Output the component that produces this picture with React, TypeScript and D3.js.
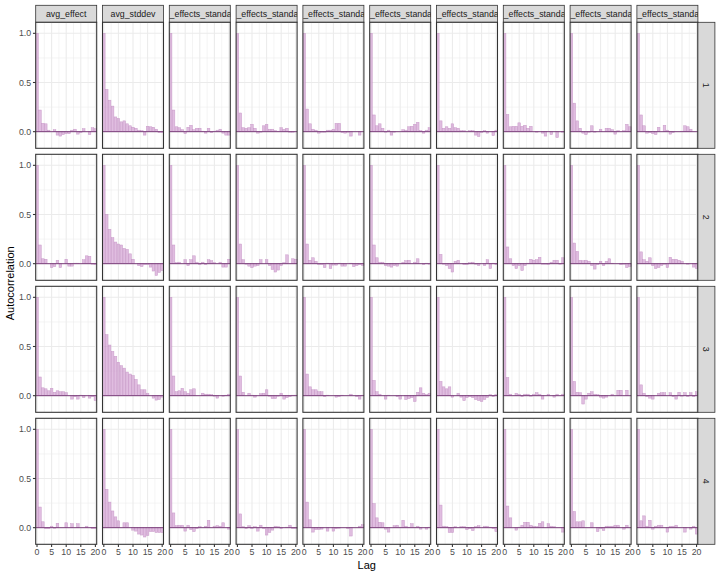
import React, { useRef, useEffect } from "react";
import * as d3 from "d3";

// facet labels (long parameter names show only their cut middle part in the strips)
const columnLabels = [
  "avg_effect",
  "avg_stddev",
  "_effects_standa",
  "_effects_standa",
  "_effects_standa",
  "_effects_standa",
  "_effects_standa",
  "_effects_standa",
  "_effects_standa",
  "_effects_standa",
];
const rowLabels = ["1", "2", "3", "4"];
const lags = [0, 1, 2, 3, 4, 5, 6, 7, 8, 9, 10, 11, 12, 13, 14, 15, 16, 17, 18, 19, 20];
const xTicks = [0, 5, 10, 15, 20];
const yTicks = [0, 0.5, 1];

// autocorrelation per chain (row), one array per parameter (column)
const acfChain1 = [
  [1, 0.22, 0.085, 0.08, 0.015, 0.0, 0.02, -0.035, -0.045, -0.03, -0.02, -0.02, 0.015, 0.025, -0.025, -0.01, 0.03, 0.0, -0.03, 0.04, 0.03],
  [1, 0.43, 0.32, 0.26, 0.15, 0.135, 0.1, 0.11, 0.08, 0.06, 0.045, 0.035, 0.015, 0.01, -0.035, 0.055, 0.05, 0.045, 0.025, -0.01, -0.01],
  [1, 0.22, 0.05, 0.04, 0.02, -0.02, 0.045, 0.065, 0.02, 0.035, 0.035, 0.005, -0.015, 0.035, -0.01, 0.005, 0.015, 0.025, -0.015, -0.035, -0.035],
  [1, 0.19, 0.04, 0.035, 0.04, 0.075, 0.035, -0.015, -0.005, 0.06, 0.075, 0.025, 0.025, 0.01, 0.005, 0.04, 0.025, 0.035, -0.005, -0.005, 0],
  [1, 0.23, 0.08, 0.025, 0.015, -0.015, -0.005, -0.005, 0.015, 0.015, 0.025, 0.085, 0.085, -0.01, -0.015, -0.005, -0.045, 0, 0, -0.035, 0],
  [1, 0.17, 0.06, 0.08, 0.035, -0.005, 0.015, -0.035, -0.005, 0, 0, 0.02, 0.015, 0.05, 0.055, 0.075, 0.095, 0.01, -0.015, 0.015, 0.04],
  [1, 0.11, 0.035, 0.05, 0.035, 0.08, 0.04, 0.035, 0.01, 0.01, 0, 0.01, 0.01, -0.035, -0.05, -0.01, 0.01, -0.015, 0, -0.04, 0.015],
  [1, 0.175, 0.05, 0.055, 0.055, 0.09, 0.055, 0.065, 0.035, 0.055, 0, -0.005, 0, -0.015, -0.045, 0, -0.03, 0, -0.06, 0, -0.005],
  [1, 0.29, 0.11, 0.035, -0.015, -0.03, -0.005, 0.06, -0.005, 0, 0.025, 0, 0.035, 0.035, 0.02, -0.025, 0.01, 0, 0.01, 0.075, 0.05],
  [1, 0.17, 0.06, -0.015, -0.01, -0.02, -0.03, 0.045, 0, 0.065, 0.015, -0.025, -0.01, 0, 0, 0.005, 0.06, 0.05, 0.025, 0, 0],
];
const acfChain2 = [
  [1, 0.19, 0.05, 0.045, 0, -0.04, -0.03, 0.035, -0.04, 0, 0.045, -0.025, -0.025, 0.005, 0.005, 0, 0.04, 0.08, 0.075, -0.005, -0.01],
  [1, 0.5, 0.35, 0.265, 0.22, 0.2, 0.19, 0.155, 0.145, 0.1, 0.045, 0, -0.02, -0.03, -0.01, -0.01, -0.035, -0.075, -0.12, -0.09, -0.07],
  [1, 0.19, 0.01, 0.015, 0, 0.04, -0.02, 0.04, 0.08, 0.015, -0.01, 0.015, -0.01, 0.04, 0.03, 0.01, 0, 0.015, -0.035, -0.035, 0.045],
  [1, 0.2, 0.04, -0.005, -0.025, -0.04, -0.025, -0.02, 0.04, 0, 0.04, -0.02, -0.06, -0.085, -0.065, -0.02, 0.01, 0.09, 0, 0.05, 0.045],
  [1, 0.2, 0.035, 0.06, 0.025, -0.01, -0.01, -0.04, 0.005, -0.05, -0.015, -0.015, 0.005, -0.025, -0.025, 0, 0.005, -0.03, -0.02, -0.01, -0.02],
  [1, 0.19, 0.06, 0.015, 0.015, -0.02, -0.025, -0.035, -0.02, -0.025, 0, 0.015, 0.03, 0.035, 0, 0.015, 0.05, 0, -0.01, 0.005, -0.005],
  [1, 0.095, -0.005, -0.02, -0.05, -0.085, 0.025, 0.035, 0, -0.01, -0.01, 0.01, 0.015, -0.005, -0.02, 0, -0.02, 0.04, -0.05, 0.005, -0.01],
  [1, 0.17, 0.05, -0.02, -0.05, -0.02, -0.07, -0.02, 0.005, 0.045, 0.035, 0.04, 0.065, -0.005, -0.005, -0.01, 0.015, 0.035, 0.035, -0.005, 0.06],
  [1, 0.21, 0.125, 0.035, 0.03, 0.035, 0.025, -0.02, -0.055, -0.01, 0.025, -0.02, 0.025, 0.05, 0.005, 0, 0, -0.01, -0.005, -0.04, -0.03],
  [1, 0.12, 0.04, 0.025, 0.06, -0.02, -0.05, -0.04, -0.02, -0.005, -0.04, 0.065, 0.045, 0.045, 0.035, 0.025, 0, -0.005, 0, -0.035, -0.05],
];
const acfChain3 = [
  [1, 0.19, 0.08, 0.07, 0.05, 0.075, 0.035, 0.05, 0.04, 0.04, 0.03, 0, -0.035, -0.01, -0.035, 0.005, -0.02, 0, -0.025, -0.01, -0.05],
  [1, 0.62, 0.515, 0.45, 0.4, 0.34, 0.305, 0.28, 0.24, 0.22, 0.205, 0.165, 0.11, 0.06, 0.06, 0.025, 0, -0.025, -0.045, -0.04, -0.015],
  [1, 0.2, 0.04, 0.05, 0.075, 0.04, 0.025, 0.06, 0.07, 0, 0, 0.025, 0.015, 0.015, 0.01, -0.005, -0.025, 0, -0.005, 0.005, 0.015],
  [1, 0.2, 0.035, 0, 0.025, 0.005, -0.015, 0, 0.02, 0.025, 0.06, -0.005, -0.03, -0.03, -0.005, 0.025, -0.035, -0.02, -0.01, 0.005, 0.005],
  [1, 0.22, 0.09, 0.06, 0.06, 0.04, 0.04, -0.01, 0.005, 0, 0, -0.015, -0.01, 0.005, 0, 0, 0.015, 0, -0.01, -0.035, 0.005],
  [1, 0.155, 0.04, 0.015, 0, -0.035, 0.005, 0, 0, -0.01, -0.035, 0, -0.04, -0.03, -0.02, -0.06, 0.035, 0.08, 0.025, 0.01, 0.025],
  [1, 0.145, 0.09, 0.07, 0.09, -0.015, 0, 0.025, -0.015, -0.05, -0.02, -0.01, -0.02, -0.04, -0.05, -0.06, -0.04, -0.02, 0.01, -0.01, 0.01],
  [1, 0.185, 0.015, 0, 0.025, 0.015, -0.01, 0.015, 0.015, -0.005, 0.015, 0.03, 0.015, -0.035, 0, 0.015, 0, -0.015, 0.015, 0, 0.015],
  [1, 0.145, 0.035, 0.03, -0.085, -0.035, 0.025, 0.04, 0.015, 0.01, -0.015, -0.025, -0.015, 0, 0.015, 0, 0.055, 0.055, 0, 0.055, 0],
  [1, 0.11, 0.025, -0.01, -0.025, -0.035, 0, 0.025, 0.03, 0.03, 0, 0.03, -0.01, -0.035, 0.035, -0.005, 0.03, -0.01, 0.03, -0.01, 0.04],
];
const acfChain4 = [
  [1, 0.21, 0.06, -0.01, -0.01, 0.015, -0.005, 0.045, 0, 0, 0.05, 0, 0.04, 0, 0.04, 0, 0, 0.015, 0, -0.01, -0.01],
  [1, 0.39, 0.26, 0.17, 0.11, 0.07, 0, 0.05, 0.05, 0, -0.025, -0.035, -0.065, -0.075, -0.095, -0.08, -0.04, -0.04, -0.05, -0.05, -0.05],
  [1, 0.15, 0.02, 0.025, 0.025, -0.035, 0.025, -0.02, -0.04, -0.01, 0.01, 0, 0.015, 0.075, 0, 0.015, 0.02, 0.015, 0.05, 0, -0.015],
  [1, 0.14, 0.01, -0.01, 0.02, -0.01, 0.01, -0.035, 0.025, -0.01, -0.075, -0.05, -0.025, 0.015, 0.01, -0.01, 0, 0.005, 0.025, -0.01, -0.01],
  [1, 0.26, 0.08, -0.045, -0.02, -0.02, -0.015, 0, -0.035, 0, -0.035, -0.01, -0.005, 0, 0, -0.01, -0.085, 0, 0, 0.015, 0.03],
  [1, 0.245, 0.1, 0.055, 0.05, -0.015, -0.045, 0, 0.02, 0.025, 0.005, 0.075, 0.015, 0.005, 0.04, 0.005, 0.015, -0.015, 0, -0.015, 0.005],
  [1, 0.23, 0.015, 0.01, -0.05, -0.05, 0.01, 0, 0.01, 0.01, -0.02, -0.01, -0.03, 0.01, 0.02, 0, 0.015, 0.015, 0.005, -0.01, -0.04],
  [1, 0.22, 0.1, 0, -0.025, 0.005, 0.025, 0.055, 0.055, 0.025, 0.015, 0.01, 0.045, 0.06, 0, 0.04, 0.015, 0.01, 0, 0, -0.045],
  [1, 0.165, 0.06, 0.06, 0.07, 0, 0, 0.05, 0, -0.04, -0.01, -0.03, 0.015, 0.015, 0.015, 0.025, 0.025, 0, -0.015, 0.025, 0],
  [1, 0.07, 0.12, 0.015, 0.075, -0.015, 0.015, 0.025, 0.025, 0, -0.045, 0.015, 0.015, 0.025, 0, 0, -0.045, 0, -0.015, 0.015, -0.065],
];
const acfByChain = [acfChain1, acfChain2, acfChain3, acfChain4];

const FONT = "'Liberation Sans', Arial, Helvetica, sans-serif";

const AcfGrid = ({ width = 720, height = 576 }) => {
  const svgRef = useRef(null);

  useEffect(() => {
    const svg = d3.select(svgRef.current);
    svg.selectAll("*").remove();

    const left = 35.7;
    const top = 22.3;
    const panelW = 61;
    const panelH = 126;
    const gapX = 5.8;
    const gapY = 6;
    const stripH = 17;
    const stripW = 17;
    const nCol = columnLabels.length;
    const nRow = rowLabels.length;
    const gridRight = left + nCol * panelW + (nCol - 1) * gapX;
    const gridBottom = top + nRow * panelH + (nRow - 1) * gapY;

    const x = d3.scaleLinear().domain([-0.45, 20.45]).range([0, panelW]);
    const y = d3.scaleLinear().domain([-0.169, 1.112]).range([panelH, 0]);
    const barW = x(0.9) - x(0);

    const defs = svg.append("defs");

    columnLabels.forEach((label, c) => {
      const px = left + c * (panelW + gapX);

      // top strip
      const clipId = `strip-clip-${c}`;
      defs.append("clipPath").attr("id", clipId)
        .append("rect").attr("x", px).attr("y", top - stripH).attr("width", panelW).attr("height", stripH);
      svg.append("rect")
        .attr("x", px).attr("y", top - stripH).attr("width", panelW).attr("height", stripH)
        .attr("fill", "#d9d9d9").attr("stroke", "#333333").attr("stroke-width", 0.8);
      const stripText = svg.append("g").attr("clip-path", `url(#${clipId})`)
        .append("text")
        .attr("y", top - stripH / 2)
        .attr("dy", "0.35em")
        .attr("font-family", FONT).attr("font-size", 8.8).attr("fill", "#1a1a1a")
        .text(label);
      // a label wider than the strip starts at its left edge and is cut on the right
      const textLen = (stripText.node() as SVGTextElement).getComputedTextLength();
      if (textLen > panelW - 2) {
        stripText.attr("x", px + 0.3).attr("text-anchor", "start");
      } else {
        stripText.attr("x", px + panelW / 2).attr("text-anchor", "middle");
      }

      rowLabels.forEach((rowLabel, r) => {
        const py = top + r * (panelH + gapY);
        const values = acfByChain[r][c];
        const g = svg.append("g").attr("transform", `translate(${px},${py})`);

        g.append("rect").attr("width", panelW).attr("height", panelH).attr("fill", "white");

        // minor grid
        [2.5, 7.5, 12.5, 17.5].forEach((v) => {
          g.append("line").attr("x1", x(v)).attr("x2", x(v)).attr("y1", 0).attr("y2", panelH)
            .attr("stroke", "#ebebeb").attr("stroke-width", 0.55);
        });
        [0.25, 0.75].forEach((v) => {
          g.append("line").attr("x1", 0).attr("x2", panelW).attr("y1", y(v)).attr("y2", y(v))
            .attr("stroke", "#ebebeb").attr("stroke-width", 0.55);
        });
        // major grid
        xTicks.forEach((v) => {
          g.append("line").attr("x1", x(v)).attr("x2", x(v)).attr("y1", 0).attr("y2", panelH)
            .attr("stroke", "#ebebeb").attr("stroke-width", 1.07);
        });
        yTicks.forEach((v) => {
          g.append("line").attr("x1", 0).attr("x2", panelW).attr("y1", y(v)).attr("y2", y(v))
            .attr("stroke", "#ebebeb").attr("stroke-width", 1.07);
        });

        // bars
        g.selectAll(".bar")
          .data(lags)
          .enter()
          .append("rect")
          .attr("x", (d) => x(d) - barW / 2)
          .attr("y", (d, i) => y(Math.max(0, values[i])))
          .attr("width", barW)
          .attr("height", (d, i) => Math.abs(y(values[i]) - y(0)))
          .attr("fill", "#cf9acf")
          .attr("fill-opacity", 0.65)
          .attr("stroke", "#c08cc0")
          .attr("stroke-opacity", 0.8)
          .attr("stroke-width", 0.5);

        // zero line
        g.append("line").attr("x1", 0).attr("x2", panelW).attr("y1", y(0)).attr("y2", y(0))
          .attr("stroke", "#7a3f7a").attr("stroke-width", 1);

        // hide the part of the first bar left of the panel
        g.append("rect").attr("x", -3).attr("y", 0).attr("width", 3).attr("height", panelH).attr("fill", "white");

        g.append("rect").attr("width", panelW).attr("height", panelH)
          .attr("fill", "none").attr("stroke", "#333333").attr("stroke-width", 1.07);

        // left axis on first column
        if (c === 0) {
          yTicks.forEach((v) => {
            g.append("line").attr("x1", -2.75).attr("x2", 0).attr("y1", y(v)).attr("y2", y(v))
              .attr("stroke", "#333333").attr("stroke-width", 1.07);
            g.append("text").attr("x", -4.5).attr("y", y(v)).attr("dy", "0.35em")
              .attr("text-anchor", "end").attr("font-family", FONT).attr("font-size", 8.8)
              .attr("fill", "#4d4d4d").text(d3.format(".1f")(v));
          });
        }
        // bottom axis on last row
        if (r === nRow - 1) {
          xTicks.forEach((v) => {
            g.append("line").attr("x1", x(v)).attr("x2", x(v)).attr("y1", panelH).attr("y2", panelH + 2.75)
              .attr("stroke", "#333333").attr("stroke-width", 1.07);
            g.append("text").attr("x", x(v)).attr("y", panelH + 4.5).attr("dy", "0.71em")
              .attr("text-anchor", "middle").attr("font-family", FONT).attr("font-size", 8.8)
              .attr("fill", "#4d4d4d").text(v);
          });
        }
        // right strip on last column
        if (c === nCol - 1) {
          svg.append("rect")
            .attr("x", gridRight).attr("y", py).attr("width", stripW).attr("height", panelH)
            .attr("fill", "#d9d9d9").attr("stroke", "#333333").attr("stroke-width", 0.8);
          svg.append("text")
            .attr("transform", `translate(${gridRight + stripW / 2},${py + panelH / 2}) rotate(90)`)
            .attr("dy", "0.35em").attr("text-anchor", "middle")
            .attr("font-family", FONT).attr("font-size", 8.8).attr("fill", "#1a1a1a")
            .text(rowLabel);
        }
      });
    });

    // axis titles
    svg.append("text")
      .attr("x", (left + gridRight) / 2).attr("y", gridBottom + 24.5)
      .attr("text-anchor", "middle").attr("font-family", FONT).attr("font-size", 11).attr("fill", "black")
      .text("Lag");
    svg.append("text")
      .attr("transform", `translate(13.5,${(top + gridBottom) / 2}) rotate(-90)`)
      .attr("text-anchor", "middle").attr("font-family", FONT).attr("font-size", 11).attr("fill", "black")
      .text("Autocorrelation");
  }, [width, height]);

  return <svg ref={svgRef} width={width} height={height} style={{ display: "block" }}></svg>;
};

export default function App() {
  return (
    <div style={{ position: "absolute", left: 0, top: 0, background: "white" }}>
      <AcfGrid width={720} height={576} />
    </div>
  );
}
